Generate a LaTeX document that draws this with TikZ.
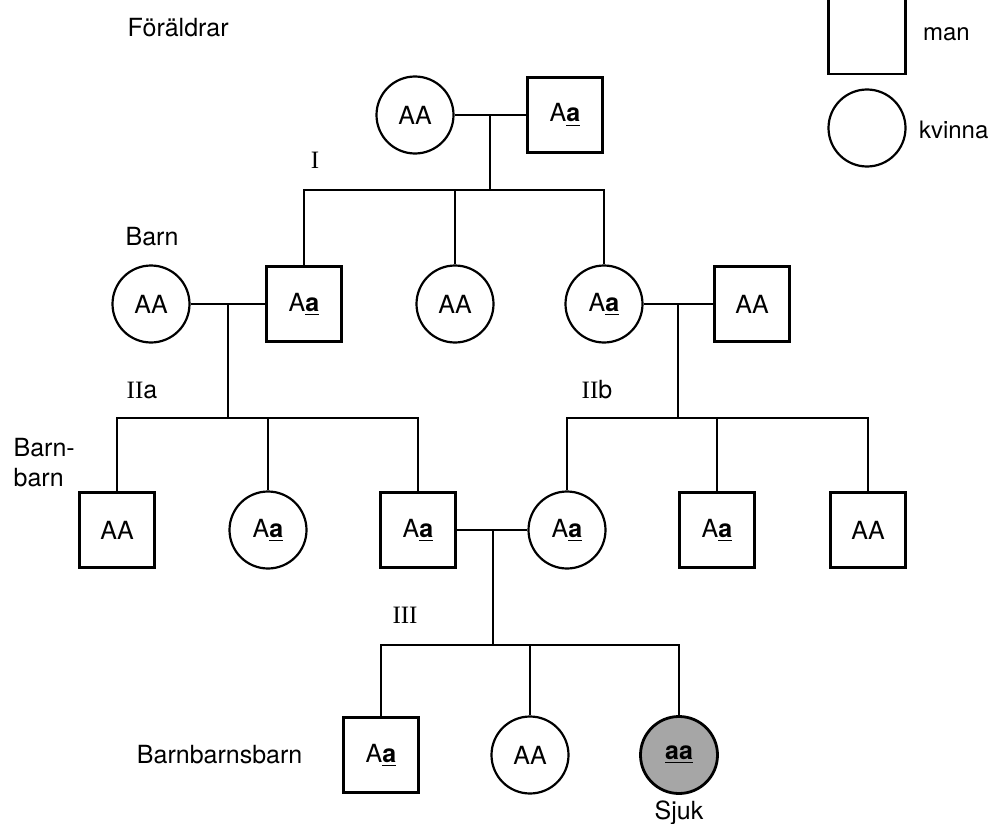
\documentclass[tikz,border=0pt]{standalone}
\usepackage{fontspec}
\setmainfont{TeX Gyre Heros}
\newfontfamily\serif{Liberation Serif}
\usetikzlibrary{calc}
\newcommand{\ua}{\underline{\textbf{a}}}

\begin{document}
\begin{tikzpicture}[x=0.5pt,y=-0.5pt,line width=1pt,
    every node/.style={font=\fontsize{12.5}{15}\selectfont},
    mansym/.style={draw,line width=1.1pt,minimum size=37.5pt,inner sep=0pt},
    kvsym/.style={draw,circle,line width=1.1pt,minimum size=38.5pt,inner sep=0pt},
    sjuk/.style={kvsym,fill=black!35,line width=1.4pt},
    etikett/.style={anchor=west},
    forkl/.style={anchor=west,inner sep=0pt,font=\fontsize{12}{14}\selectfont},
    romsk/.style={font=\fontsize{12.5}{15}\selectfont\serif}]
    \useasboundingbox (0,0) rectangle (990,824);
    \pgfmathsetmacro{\yA}{115}
    \pgfmathsetmacro{\yB}{304}
    \pgfmathsetmacro{\yC}{530}
    \pgfmathsetmacro{\yD}{755}
    \pgfmathsetmacro{\bA}{190}
    \pgfmathsetmacro{\bB}{418}
    \pgfmathsetmacro{\bC}{645}
    % rubriker
    \node[etikett] (foraldrar) at (120, 28) {Föräldrar};
    \node[etikett] (barn) at (118, 237) {Barn};
    \node[etikett, align=left] (barnbarn) at (6, 463) {Barn-\\barn};
    \node[anchor=east] (bbb) at (310, \yD) {Barnbarnsbarn};
    % teckenforklaring
    \node[mansym, minimum height=42pt, minimum width=38.5pt] (lman) at (867, 32) {};
    \node[kvsym] (lkv) at (867, 128) {};
    \node[forkl] (tman) at (922, 34) {man};
    \node[forkl] (tkv) at (918, 130) {kvinna};
    % I
    \node[kvsym] (mor) at (415, \yA) {AA};
    \node[mansym] (far) at (565, \yA) {A\ua};
    \node[romsk] (nI) at (315, 160) {I};
    % Barn
    \node[kvsym] (b1) at (151, \yB) {AA};
    \node[mansym] (b2) at (304, \yB) {A\ua};
    \node[kvsym] (b3) at (455, \yB) {AA};
    \node[kvsym] (b4) at (604, \yB) {A\ua};
    \node[mansym] (b5) at (752, \yB) {AA};
    \node (nIIa) at (142, 390) {{\serif II}a};
    \node (nIIb) at (597, 390) {{\serif II}b};
    % Barnbarn
    \node[mansym] (c1) at (117, \yC) {AA};
    \node[kvsym] (c2) at (268, \yC) {A\ua};
    \node[mansym] (c3) at (418, \yC) {A\ua};
    \node[kvsym] (c4) at (567, \yC) {A\ua};
    \node[mansym] (c5) at (717, \yC) {A\ua};
    \node[mansym] (c6) at (868, \yC) {AA};
    \node[romsk] (nIII) at (405, 615) {III};
    % Barnbarnsbarn
    \node[mansym] (d1) at (381, \yD) {A\ua};
    \node[kvsym] (d2) at (530, \yD) {AA};
    \node[sjuk] (d3) at (679, \yD) {\underline{\textbf{aa}}};
    \node (tsjuk) at (679, 813) {Sjuk};
    % linjer
    \coordinate (jA) at ($(mor)!.5!(far)$);
    \coordinate (jB) at ($(b1)!.5!(b2)$);
    \coordinate (jC) at ($(b4)!.5!(b5)$);
    \coordinate (jD) at ($(c3)!.5!(c4)$);
    \coordinate (kA) at (jA |- 0,\bA);
    \coordinate (kB) at (jB |- 0,\bB);
    \coordinate (kC) at (jC |- 0,\bB);
    \coordinate (kD) at (jD |- 0,\bC);
    \draw (mor) -- (far);
    \draw (b1) -- (b2);
    \draw (b4) -- (b5);
    \draw (c3) -- (c4);
    \draw (jA) -- (kA);
    \draw (jB) -- (kB);
    \draw (jC) -- (kC);
    \draw (jD) -- (kD);
    \foreach \k in {b2,b3,b4} \draw (\k.north) |- (kA);
    \foreach \k in {c1,c2,c3} \draw (\k.north) |- (kB);
    \foreach \k in {c4,c5,c6} \draw (\k.north) |- (kC);
    \foreach \k in {d1,d2,d3} \draw (\k.north) |- (kD);
  \end{tikzpicture}
\end{document}
